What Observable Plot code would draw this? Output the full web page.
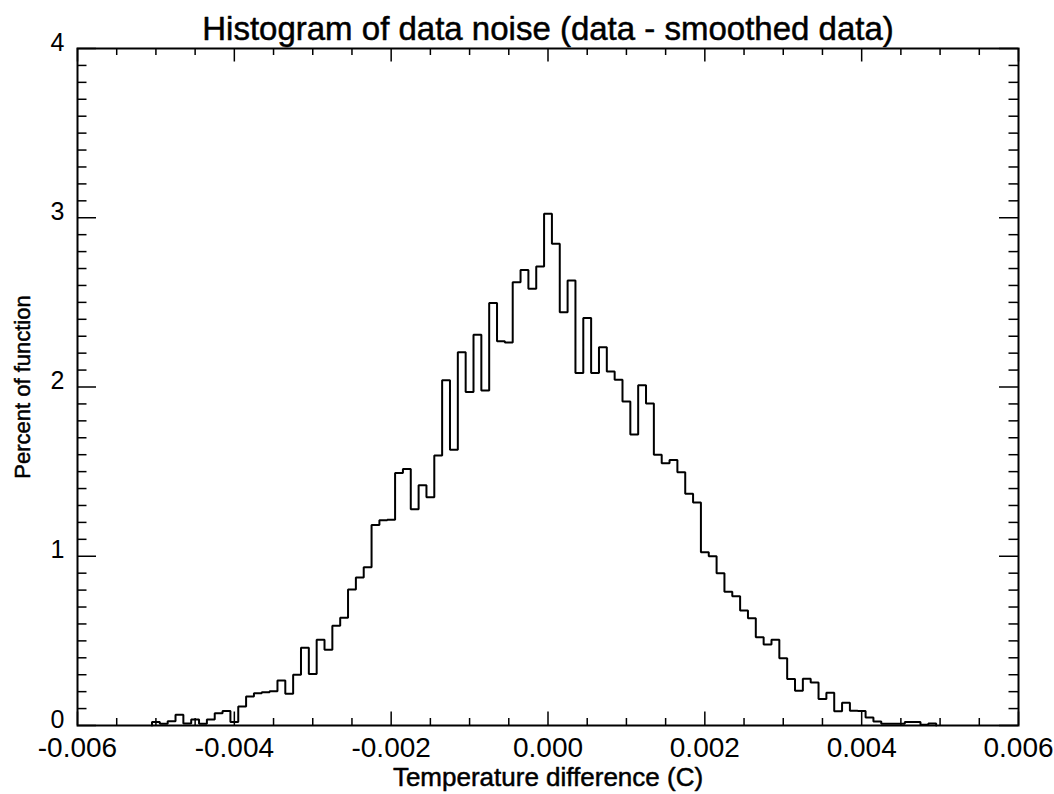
<!DOCTYPE html>
<html>
<head>
<meta charset="utf-8">
<script src="https://cdn.jsdelivr.net/npm/d3@7"></script>
<script src="https://cdn.jsdelivr.net/npm/@observablehq/plot@0.6"></script>
<style>
  body { margin: 0; background: #fff; }
  svg { font-family: "Liberation Sans", Arial, Helvetica, sans-serif; }
</style>
</head>
<body>
<div id="chart"></div>
<script>
// Bin centers (Temperature difference, C)
const binCenters = [
  -0.0050,-0.0049,-0.0048,-0.0047,-0.0046,-0.0045,-0.0044,-0.0043,-0.0042,-0.0041,
  -0.0040,-0.0039,-0.0038,-0.0037,-0.0036,-0.0035,-0.0034,-0.0033,-0.0032,-0.0031,
  -0.0030,-0.0029,-0.0028,-0.0027,-0.0026,-0.0025,-0.0024,-0.0023,-0.0022,-0.0021,
  -0.0020,-0.0019,-0.0018,-0.0017,-0.0016,-0.0015,-0.0014,-0.0013,-0.0012,-0.0011,
  -0.0010,-0.0009,-0.0008,-0.0007,-0.0006,-0.0005,-0.0004,-0.0003,-0.0002,-0.0001,
   0.0000, 0.0001, 0.0002, 0.0003, 0.0004, 0.0005, 0.0006, 0.0007, 0.0008, 0.0009,
   0.0010, 0.0011, 0.0012, 0.0013, 0.0014, 0.0015, 0.0016, 0.0017, 0.0018, 0.0019,
   0.0020, 0.0021, 0.0022, 0.0023, 0.0024, 0.0025, 0.0026, 0.0027, 0.0028, 0.0029,
   0.0030, 0.0031, 0.0032, 0.0033, 0.0034, 0.0035, 0.0036, 0.0037, 0.0038, 0.0039,
   0.0040, 0.0041, 0.0042, 0.0043, 0.0044, 0.0045, 0.0046, 0.0047, 0.0048, 0.0049
];
// Percent of function in each bin
const percent = [
  0.02, 0.01, 0.025, 0.063, 0.012, 0.035, 0.01, 0.035, 0.073, 0.085,
  0.02, 0.112, 0.171, 0.19, 0.197, 0.203, 0.266, 0.187, 0.30, 0.46,
  0.305, 0.506, 0.447, 0.589, 0.636, 0.803, 0.875, 0.935, 1.185, 1.213,
  1.215, 1.492, 1.516, 1.278, 1.42, 1.349, 1.595, 2.04, 1.629, 2.206,
  1.97, 2.308, 1.979, 2.497, 2.271, 2.263, 2.619, 2.692, 2.58, 2.712,
  3.023, 2.846, 2.442, 2.629, 2.082, 2.407, 2.082, 2.235, 2.092, 2.043,
  1.914, 1.719, 2.011, 1.902, 1.6, 1.55, 1.568, 1.496, 1.369, 1.318,
  1.024, 1.0, 0.9, 0.79, 0.764, 0.679, 0.634, 0.522, 0.479, 0.506,
  0.398, 0.275, 0.205, 0.276, 0.254, 0.156, 0.194, 0.084, 0.135, 0.087,
  0.085, 0.047, 0.023, 0.01, 0.01, 0.01, 0.02, 0.02, 0.005, 0.012
];
const binWidth = 0.0001;

const xTicks = [-0.006, -0.004, -0.002, 0, 0.002, 0.004, 0.006];
const xMinorTicks = [-0.0055, -0.005, -0.0045, -0.0035, -0.003, -0.0025, -0.0015, -0.001, -0.0005,
                     0.0005, 0.001, 0.0015, 0.0025, 0.003, 0.0035, 0.0045, 0.005, 0.0055];
const yTicks = [0, 1, 2, 3, 4];
const yMinorTicks = [
  0.1, 0.2, 0.3, 0.4, 0.5, 0.6, 0.7, 0.8, 0.9,
  1.1, 1.2, 1.3, 1.4, 1.5, 1.6, 1.7, 1.8, 1.9,
  2.1, 2.2, 2.3, 2.4, 2.5, 2.6, 2.7, 2.8, 2.9,
  3.1, 3.2, 3.3, 3.4, 3.5, 3.6, 3.7, 3.8, 3.9
];

const title = "Histogram of data noise (data - smoothed data)";
const xLabel = "Temperature difference (C)";
const yLabel = "Percent of function";

// Build the step outline of the histogram
const steps = [{x: binCenters[0] - binWidth / 2, y: 0}];
binCenters.forEach((c, i) => {
  steps.push({x: c - binWidth / 2, y: percent[i]});
  steps.push({x: c + binWidth / 2, y: percent[i]});
});
steps.push({x: binCenters[binCenters.length - 1] + binWidth / 2, y: 0});

const W = 1054, H = 794;
const mL = 77, mR = 36, mT = 48, mB = 69;
const fw = W - mL - mR, fh = H - mT - mB;
const xMaj = 13.5, xMin = 7, yMaj = 19, yMin = 9.5;
const ink = {fill: "#000", stroke: "#000", strokeWidth: 0.5};

const chart = Plot.plot({
  width: W,
  height: H,
  marginLeft: mL,
  marginRight: mR,
  marginTop: mT,
  marginBottom: mB,
  style: {background: "#fff", color: "#000", fontFamily: "'Liberation Sans', Arial, sans-serif"},
  x: {domain: [-0.006, 0.006]},
  y: {domain: [0, 4]},
  marks: [
    Plot.line(steps, {x: "x", y: "y", stroke: "#000", strokeWidth: 2, strokeLinejoin: "miter"}),
    // bottom / top ticks (inward)
    Plot.tickX(xTicks, {x: d => d, insetTop: fh - xMaj, stroke: "#000", strokeWidth: 1.5}),
    Plot.tickX(xTicks, {x: d => d, insetBottom: fh - xMaj, stroke: "#000", strokeWidth: 1.5}),
    Plot.tickX(xMinorTicks, {x: d => d, insetTop: fh - xMin, stroke: "#000", strokeWidth: 1.5}),
    Plot.tickX(xMinorTicks, {x: d => d, insetBottom: fh - xMin, stroke: "#000", strokeWidth: 1.5}),
    // left / right ticks (inward)
    Plot.tickY(yTicks, {y: d => d, insetRight: fw - yMaj, stroke: "#000", strokeWidth: 1.5}),
    Plot.tickY(yTicks, {y: d => d, insetLeft: fw - yMaj, stroke: "#000", strokeWidth: 1.5}),
    Plot.tickY(yMinorTicks, {y: d => d, insetRight: fw - yMin, stroke: "#000", strokeWidth: 1.5}),
    Plot.tickY(yMinorTicks, {y: d => d, insetLeft: fw - yMin, stroke: "#000", strokeWidth: 1.5}),
    Plot.frame({stroke: "#000", strokeWidth: 2}),
    Plot.axisX(xTicks, {tickSize: 0, tickPadding: 12, fontSize: 28, label: null, tickFormat: d => d.toFixed(3), ...ink}),
    Plot.axisY(yTicks, {tickSize: 0, tickPadding: 13, fontSize: 25, dy: -6, label: null, tickFormat: d => String(d), ...ink}),
    Plot.text([title], {frameAnchor: "top", dy: -19, lineAnchor: "middle", fontSize: 33, ...ink}),
    Plot.text([xLabel], {frameAnchor: "bottom", dy: 52, lineAnchor: "middle", fontSize: 26, ...ink}),
    Plot.text([yLabel], {frameAnchor: "left", dx: -55, rotate: -90, textAnchor: "middle", lineAnchor: "middle", fontSize: 22, ...ink})
  ]
});
document.getElementById("chart").appendChild(chart);
</script>
</body>
</html>
